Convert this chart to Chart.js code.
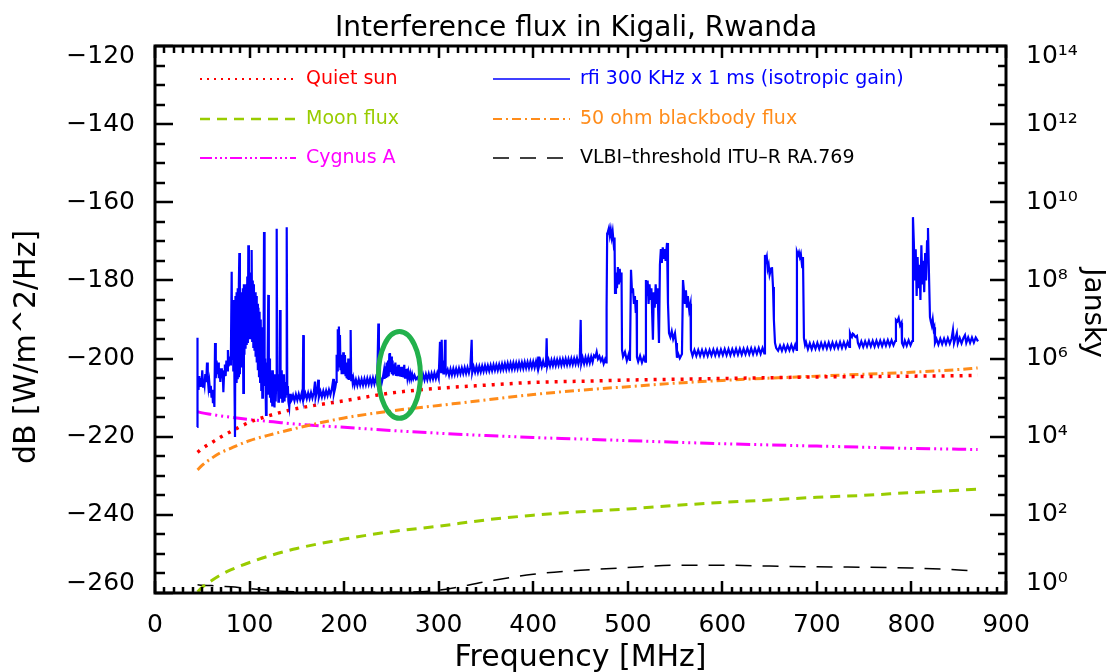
<!DOCTYPE html>
<html>
<head>
<meta charset="utf-8">
<title>Interference flux in Kigali, Rwanda</title>
<script src="https://cdn.jsdelivr.net/npm/chart.js@4.4.1/dist/chart.umd.min.js"></script>
<style>
  html, body { margin: 0; padding: 0; background: #fff; }
  #wrap { width: 1111px; height: 672px; }
</style>
</head>
<body>
<div id="wrap"><canvas id="fluxChart" width="1111" height="672"></canvas></div>
<script>
// Smooth model curves, all sampled on the same frequencies (MHz)
const curveFreq = [45, 50, 60, 70, 80, 100, 125, 150, 200, 250, 300, 350, 400, 450, 500, 550, 600, 650, 700, 750, 800, 850, 870];
const quietSun  = [-224, -223, -221.5, -220, -218.7, -216.3, -214.3, -212.8, -210.8, -208.8, -207.6, -206.8, -206.1, -205.8, -205.5, -205.3, -205.1, -204.9, -204.7, -204.6, -204.5, -204.4, -204.3];
const blackbody = [-228.5, -227.3, -225.5, -224, -223, -221, -219.3, -217.8, -215.2, -213.4, -212, -210.6, -209.2, -208.1, -207.2, -206.3, -205.6, -205, -204.5, -204, -203.5, -202.8, -202.4];
const moonFlux  = [-259.7, -258.5, -256.8, -255.3, -254.1, -252.2, -250.2, -248.6, -246.2, -244.3, -242.9, -241.3, -240.1, -239.2, -238.5, -237.6, -236.8, -236.2, -235.5, -235, -234.3, -233.7, -233.4];
const cygnusA   = [-213.6, -213.9, -214.3, -214.7, -215, -215.6, -216.2, -216.8, -217.6, -218.4, -219.1, -219.7, -220.2, -220.6, -221, -221.4, -221.8, -222.1, -222.4, -222.7, -223, -223.2, -223.3];
const vlbiLimit = [-257.9, -258, -258.1, -258.3, -258.4, -258.9, -259.4, -259.7, -259.8, -259.8, -259.3, -257.1, -255.2, -254.2, -253.5, -252.9, -252.9, -253.1, -253.3, -253.4, -253.6, -254.1, -254.5];

// Measured RFI spectrum: [frequency MHz, dB W/m^2/Hz]
const rfiSpectrum = [
  [44.6,-217.5],[44.7,-194.7],[45.2,-205.5],[46,-208],[46.8,-204.5],[47.6,-207],[48.4,-205],[49.2,-206.8],[50,-203],[50.8,-207.2],
  [51.6,-205.5],[52.4,-206.8],[53.2,-204],[54.2,-206],[55,-201],[55.8,-205],[56.6,-207.5],[57.4,-206],[58.2,-208.5],[59,-207],
  [59.8,-210],[60.6,-208],[61.3,-211.4],[62,-209],[62.8,-212.4],[63.5,-196],[64.3,-205],[65.1,-200.5],[65.9,-204],[66.7,-201],
  [67.5,-205],[68.3,-202.5],[69.1,-206],[69.9,-202.5],[70.7,-205],[71.5,-203],[72.3,-208.6],[73.1,-203.5],[73.9,-201.5],[74.7,-204.5],
  [75.5,-200.5],[76.3,-203],[77.1,-197.8],[77.9,-202],[78.7,-199.5],[79.5,-201.5],[80.3,-198.5],
  [81.1,-177.8],[81.6,-200],[82.2,-186],[82.8,-203],[83.4,-185],[84,-205],[84.6,-220.1],[85.1,-184],[85.7,-206],[86.3,-183],
  [86.9,-205],[87.5,-182],[88.1,-204.5],[88.7,-181],[89.2,-173],[89.8,-204],[90.4,-184],[91,-202],[91.7,-183],[92.3,-201],
  [92.9,-182],[93.4,-208.8],[94,-181],[94.6,-199],[95.2,-182],[95.8,-197.5],[96.4,-181],[97,-196.5],[97.6,-179],[98.2,-196],
  [98.7,-171],[99.3,-195],[99.9,-178],[100.5,-194.8],[101.1,-180],[101.7,-194.5],[102.2,-172.2],[102.8,-195.5],[103.4,-180],[104,-197],
  [104.6,-181],[105.2,-198],[105.8,-183],[106.4,-199.5],[107,-184],[107.6,-201],[108.2,-186],[108.8,-203],[109.4,-187],[110,-204.5],
  [110.6,-188],[111.2,-206],[111.8,-190],[112.4,-208],[112.9,-192],
  [113.5,-210],[114.1,-199],[114.7,-207],[115.3,-167.6],[115.9,-205],[116.5,-200],[117.4,-214.4],[118,-201],[118.6,-209],[119.2,-199],
  [119.8,-183.7],[120.4,-206],[121,-200],[121.6,-210],[122.2,-203],[122.8,-211],[123.4,-204],[124,-212],[124.6,-203],[125.2,-210],
  [125.8,-205],[126.4,-212.5],[127,-204],[127.6,-211],[128.2,-206],[128.7,-166.8],[129.3,-208],[129.9,-204],[130.5,-211],[131.1,-205],
  [131.7,-209],[132.2,-187.6],[132.8,-207],[133.4,-210],[134,-203],[134.6,-211],[135.2,-205],[135.8,-209],[136.4,-204],[137,-211],
  [137.6,-206],[138.2,-210],[138.8,-207],[139.3,-166.4],[139.9,-209],[140.5,-207],[141.1,-211],[142,-212.4],[142.8,-209],[143.6,-211],
  [144.5,-210.6],[146,-209.4],[147.5,-210.8],[149,-209.2],[150.5,-210.6],[152,-209.1],[153.5,-210.5],[155,-209],[156.2,-210.4],[156.8,-194],
  [157.4,-210.2],[159,-208.9],[160.5,-210.3],[162,-208.8],[163.5,-210.2],[165,-208.7],[166.5,-210.1],[168,-208.6],[169.2,-205.9],[169.8,-210],
  [171.2,-208.5],[172.7,-205.4],[173.3,-209.9],[175,-208.4],[176.5,-209.8],[178,-208.3],[179.5,-209.7],[181,-208.2],[182.5,-209.5],[184,-208],
  [185.5,-209.3],[187,-207.8],[188.6,-205.2],[189.2,-209],[190.6,-207.5],[191.6,-206],
  [192.1,-199],[192.7,-203],[193.3,-192.5],[193.9,-200],[194.5,-191.8],[195.1,-202],[195.6,-194],[196.2,-203],[196.8,-199],[197.4,-204],
  [198,-199.5],[198.6,-203.5],[199.1,-198.4],[199.7,-204],[200.3,-200],[200.9,-199.1],[201.5,-204.5],[202.1,-201],[202.7,-205],[203.3,-202],
  [203.9,-205.3],[204.4,-200],[205,-205.5],[205.6,-203],[206.3,-205],[206.9,-192.7],[207.5,-205.5],[208.2,-204],[209,-206],[209.7,-205],
  [211,-206.9],[212.5,-205.4],[214,-206.9],[215.5,-205.3],[217,-206.8],[218.5,-205.3],[220,-206.8],[221.5,-205.2],[223,-206.7],[224.5,-205.1],
  [226,-206.6],[227.5,-205.1],[229,-206.6],[230.5,-205],[232,-206.5],[233.5,-205],[235,-206.4],[236.2,-191],[236.8,-206.3],[238.2,-204.9],
  [239.7,-206.3],[241,-204.8],
  [242.2,-203],[242.8,-205.2],[243.5,-202],[244.2,-205],[245,-201],[245.8,-204.8],[246.5,-200.5],[247.2,-204.5],[247.8,-199],[248.5,-198.6],
  [249.2,-203.5],[249.8,-199.5],[250.5,-204],[251.2,-200.5],[252,-204.3],[252.8,-201.5],[253.5,-204],[254.2,-201],[255,-204.2],[255.8,-202],
  [256.5,-204.5],[257.3,-201.6],[258,-204.5],[258.8,-202.5],[259.6,-204.6],[260.4,-202.1],[261.2,-204.7],[262,-202.5],[262.8,-204.8],[263.6,-201.6],
  [264.4,-204.9],[265.2,-203],[266.2,-202.9],[267,-205],[268,-203.5],[269,-205.1],[270,-203.8],[271,-205.2],[272,-204],[273.2,-205.2],
  [274.5,-204.3],[276,-205.3],[277.5,-204.8],
  [279,-205.6],[280.5,-204.2],[282,-205.6],[283.5,-204.1],[285,-205.5],[286.5,-204],[288,-205.4],[289.5,-203.9],[291,-205.3],[292.5,-203.8],
  [294,-205.2],[295.5,-203.7],[297,-205.1],[298.5,-203.7],[300,-205],[301.4,-195.7],[302,-201.5],[302.6,-203.5],[303.2,-195.2],[303.8,-202],
  [304.4,-200.5],[305,-203.8],[305.6,-201],[306.2,-203.5],[306.7,-195.2],[307.3,-202.5],[308,-203.8],
  [309.5,-202.8],[311,-204.3],[312.5,-202.7],[314,-204.2],[315.5,-202.6],[317,-204.1],[318.5,-202.6],[320,-204],[321.5,-202.5],[323,-203.9],
  [324.5,-202.4],[326,-203.8],[327.5,-202.3],[329,-203.8],[330.5,-202.3],[332,-203.7],[333.5,-202.2],[334.9,-195.2],[335.5,-203.6],[337,-202.1],
  [338.5,-203.5],[340,-202],[341.5,-203.5],[343,-202],[344.5,-203.4],[346,-201.9],[347.5,-203.3],[349,-201.8],[350.5,-203.2],[352,-201.8],
  [353.5,-203.2],[355,-201.7],[356.5,-203.1],[358,-201.6],[359.5,-203],[361,-201.6],[362.5,-203],[364,-201.5],[365.5,-202.9],[367,-201.4],
  [368.4,-202.8],[370,-201.3],[371.5,-202.8],[373,-201.2],[374.5,-202.7],[376,-201.2],[377.5,-202.7],[379,-201.1],[380.5,-202.6],[382,-201.1],
  [383.5,-202.6],[385,-201],[386.5,-202.5],[388,-201],[389.5,-202.5],[391,-200.9],[392.5,-202.4],[394,-200.9],[395.5,-202.4],[397,-200.8],
  [398.5,-202.3],[400,-200.8],[401.5,-202.3],[403,-200.7],[404.4,-202.2],[405.4,-199.5],[406,-202.1],[407.5,-200.6],[409,-202.1],[410.5,-200.6],
  [412,-202],[413.5,-201.8],[414.2,-194.8],[414.8,-201.9],[416.3,-200.4],[417.8,-201.9],[419.3,-200.4],[420.8,-201.8],[422.3,-200.3],[423.8,-201.8],
  [425.3,-200.3],[426.8,-201.7],[428.3,-200.2],[429.8,-201.7],[431.3,-200.2],[432.8,-201.6],[434.3,-200.1],[435.8,-201.6],[437.3,-200.1],[438.8,-201.5],
  [440.3,-200],[441.8,-201.5],[443.3,-200],[444.8,-201.4],[446.3,-199.9],[447.8,-201.4],[449.3,-199.9],[450.2,-190.1],[450.8,-201.3],[452.3,-199.8],
  [453.8,-201.3],[455.3,-199.7],[456.8,-201.2],[458.3,-199.6],[459.8,-201.1],[461.3,-199.5],[462.8,-200.9],[464.3,-199.2],[465.8,-199.6],[467.1,-198.3],
  [468.5,-200.1],[470,-199.4],[471.5,-200.6],[473,-199.8],[474.5,-201.3],[476,-200.2],[477.2,-201],
  [477.6,-187.1],[478.2,-168],[479,-167.5],[480,-166.6],[481,-168.5],[482,-167],[483,-169],[484,-167.5],[485,-170.4],[486,-169],
  [486.5,-183.2],[487.5,-178],[488.6,-182],[489.5,-176.6],[490.5,-181],[491.5,-177],[492.5,-180.5],[493.4,-178],[493.9,-197.8],[495,-199.5],
  [497,-198.3],[499,-200.5],[501,-198.9],[502.3,-200.6],[503.4,-177.3],[504.5,-183],[505.5,-182],[506.5,-186],[507.5,-184],[508.5,-188.3],
  [509.3,-185],[509.7,-199.6],[511,-200.8],[513,-199.3],[515,-201],[517,-199.6],[518.5,-200.8],[519.2,-179.9],[520,-184],[521,-180],
  [522,-186],[523,-181],[524,-185],[525,-182],[526.6,-195.2],[527.5,-183],[528.5,-187],[529.5,-181],[530.5,-186],[531.5,-182],
  [533,-196],[534,-176],[535,-172],[536,-175.5],[537,-171.5],[538,-174.5],[539,-172],[540,-175],[541.5,-170.4],[542.5,-185.8],
  [543.6,-193.5],[545,-194.5],[546.5,-193],[548,-195],[549.9,-193.5],[551,-196],[552,-199.8],[553,-198.6],[555,-199.9],[557.3,-198.8],
  [558.4,-179.9],[559.5,-183],[560.5,-186],[561.5,-182.5],[562.5,-187],[563.5,-184],[565,-187.6],[566.3,-186],[566.8,-197.8],
  [568.5,-199.3],[570.5,-197.8],[572.5,-199.3],[574.5,-197.8],[576.5,-199.3],[578.5,-197.8],[580.5,-199.3],[582.5,-197.8],[584.5,-199.3],[586.5,-197.8],
  [588.5,-199.2],[590.5,-197.7],[592.5,-199.2],[594.5,-197.7],[596.5,-199.2],[598.5,-197.7],[600.5,-199.1],[602.5,-197.6],[604.5,-199.1],[606.5,-197.6],
  [608.5,-199.1],[610.5,-197.6],[612.5,-199],[614.5,-197.5],[616.5,-199],[618.5,-197.5],[620.5,-199],[622.5,-197.5],[624.5,-198.9],[626.5,-197.4],
  [628.5,-198.9],[630.5,-197.4],[632.5,-198.9],[634.5,-197.4],[636.5,-198.8],[638.5,-197.3],[640.5,-198.8],[642.5,-197.3],[644.4,-198.7],
  [645.1,-173.5],[646,-175],[647,-174],[648,-177],[649,-176],[650,-178.5],[651.5,-177],[652.5,-176.6],[653.6,-181.7],[654.5,-190],
  [655.7,-196],[657,-197.3],[659,-198],[661,-196.7],[663,-198],[665,-196.6],[667,-198],[669,-196.6],[671,-197.9],[673,-196.5],
  [675,-197.9],[677,-196.5],[678.5,-197.8],[678.9,-172.7],[680,-173.5],[681,-172.8],[682,-174],[683,-173.2],[684.5,-176.6],[685.3,-174],
  [686.3,-194.7],[687.5,-196.5],[688.5,-195.8],
  [690.5,-197.6],[692.5,-196.1],[694.5,-197.6],[696.5,-196.1],[698.5,-197.5],[700.5,-196],[702.5,-197.5],[704.5,-196],[706.5,-197.4],[708.5,-196],
  [710.5,-197.4],[712.5,-195.9],[714.5,-197.4],[716.5,-195.9],[718.5,-197.3],[720.5,-195.9],[722.5,-197.3],[724.5,-195.8],[726.5,-197.3],[728.5,-195.8],
  [730.5,-197.2],[732.5,-195.8],[734.3,-197],[735,-193.5],[736,-194.2],[737,-194.5],[738,-193.6],[739,-193.8],[740,-194.3],[741,-194.5],
  [742.4,-194.2],[743.4,-196],
  [745,-197],[747,-195.6],[749,-197],[751,-195.6],[753,-196.9],[755,-195.5],[757,-196.9],[759,-195.5],[761,-196.9],[763,-195.4],
  [765,-196.8],[767,-195.4],[769,-196.8],[771,-195.4],[773,-196.7],[775,-195.3],[777,-196.7],[779,-195.3],[781,-196.6],[782.8,-195.5],
  [783.6,-190.1],[785,-190.5],[786.5,-189.6],[788,-191.5],[789.5,-190.8],[790,-196],[791.5,-196.8],[793,-195.4],[795,-196.7],[797,-195.3],
  [799,-196.6],[800.8,-195.5],
  [801.6,-163.8],[802.5,-170],[803.5,-180],[804.5,-172],[805.5,-184],[806.5,-174],[807.5,-182],[808.5,-176],[809.5,-185],[810.5,-171],
  [811.5,-181],[812.5,-175],[813.5,-183],[814.5,-173],[815.5,-180],[816.5,-170],[817.5,-166.6],[818.5,-178],[819.6,-189.4],[820.5,-190.5],
  [821.5,-191.5],[822.5,-190],[823.5,-192.5],[824.2,-192],[824.9,-196],
  [826.5,-195],[828.5,-196.4],[830.5,-194.9],[832.5,-196.3],[834.5,-194.9],[836.5,-196.3],[838.5,-194.8],[840.5,-196.2],[842.5,-194.8],[843.9,-192.7],
  [845,-196.1],[846.5,-194.8],[848,-193.5],[849,-196.1],[851,-194.7],[853,-196.1],[855,-194.7],[856.6,-194],[858,-196],[860,-194.6],
  [862,-196],[864,-194.6],[866,-195.9],[868,-194.6],[870.4,-195.6]
];

// Axis ranges and tick steps
const freqRange = [0, 900];
const dbRange = [-260, -120];
const freqMajor = 100, freqMinor = 10;
const dbMajor = 20, dbMinor = 5;

// Hand-drawn highlight ellipse (MHz / dB)
const highlightCenter = [258.5, -204.2];
const highlightRadius = [22.2, 11.1];

const SUP = {'0':'\u2070','1':'\u00b9','2':'\u00b2','3':'\u00b3','4':'\u2074','5':'\u2075','6':'\u2076','7':'\u2077','8':'\u2078','9':'\u2079'};
function toSuper(n) { return String(n).split('').map(c => SUP[c]).join(''); }

function curvePoints(values) { return curveFreq.map((f, i) => ({ x: f, y: values[i] })); }

// IDL keeps the end labels inside the axis span: nudge first/last label inward
function edgeLabel(text, v) {
  if (v === dbRange[1]) return ['', text];
  if (v === dbRange[0]) return [text, ''];
  return text;
}
function tickFont(c) {
  const edge = c.tick && (c.tick.value === dbRange[0] || c.tick.value === dbRange[1]);
  return { size: 25, lineHeight: edge ? 0.8 : 1.2 };
}

const FONT = "'DejaVu Sans', sans-serif";
Chart.defaults.font.family = FONT;
Chart.defaults.color = '#000';

// Frame with inward ticks (IDL style)
const frameTicks = {
  id: 'frameTicks',
  afterDraw(chart) {
    const { ctx, chartArea: a, scales: { x, y } } = chart;
    ctx.save();
    ctx.strokeStyle = '#000';
    ctx.lineWidth = 2.5;
    ctx.beginPath();
    for (let v = freqRange[0]; v <= freqRange[1]; v += freqMinor) {
      const px = Math.round(x.getPixelForValue(v));
      const major = v % freqMajor === 0;
      ctx.moveTo(px, a.bottom); ctx.lineTo(px, a.bottom - (major ? 12 : 6));
      ctx.moveTo(px, a.top); ctx.lineTo(px, a.top + (major ? 12 : 7));
    }
    for (let v = dbRange[0]; v <= dbRange[1]; v += dbMinor) {
      const py = Math.round(y.getPixelForValue(v));
      const major = v % dbMajor === 0;
      ctx.moveTo(a.left, py); ctx.lineTo(a.left + (major ? 18 : 10), py);
      ctx.moveTo(a.right, py); ctx.lineTo(a.right - (major ? 16 : 8), py);
    }
    ctx.stroke();
    ctx.lineWidth = 3;
    ctx.strokeRect(a.left, a.top, a.right - a.left, a.bottom - a.top);
    ctx.restore();
  }
};

// Green ellipse drawn over the data
const highlight = {
  id: 'highlight',
  afterDatasetsDraw(chart) {
    const { ctx, scales: { x, y } } = chart;
    const cx = x.getPixelForValue(highlightCenter[0]);
    const cy = y.getPixelForValue(highlightCenter[1]);
    const rx = x.getPixelForValue(highlightCenter[0] + highlightRadius[0]) - cx;
    const ry = cy - y.getPixelForValue(highlightCenter[1] + highlightRadius[1]);
    ctx.save();
    ctx.strokeStyle = '#22b14c';
    ctx.lineWidth = 5;
    ctx.beginPath();
    ctx.ellipse(cx, cy, rx, ry, 0, 0, Math.PI * 2);
    ctx.stroke();
    ctx.restore();
  }
};

// Titles and two-column legend inside the plot
const legendSlots = [
  { label: 'Quiet sun', col: 0, row: 0 },
  { label: 'rfi 300 KHz x 1 ms (isotropic gain)', col: 1, row: 0 },
  { label: 'Moon flux', col: 0, row: 1 },
  { label: '50 ohm blackbody flux', col: 1, row: 1 },
  { label: 'Cygnus A', col: 0, row: 2 },
  { label: 'VLBI\u2013threshold ITU\u2013R RA.769', col: 1, row: 2 }
];
const annotations = {
  id: 'annotations',
  afterDraw(chart) {
    const { ctx } = chart;
    ctx.save();
    ctx.fillStyle = '#000';
    ctx.textAlign = 'center';
    ctx.textBaseline = 'alphabetic';
    ctx.font = '28px ' + FONT;
    ctx.fillText('Interference flux in Kigali, Rwanda', 576, 36);

    ctx.textBaseline = 'middle';
    ctx.font = '30px ' + FONT;
    ctx.save();
    ctx.translate(27, 347);
    ctx.rotate(-Math.PI / 2);
    ctx.fillText('dB [W/m^2/Hz]', 0, 0);
    ctx.restore();
    ctx.font = '28px ' + FONT;
    ctx.save();
    ctx.translate(1092, 313);
    ctx.rotate(Math.PI / 2);
    ctx.fillText('Jansky', 0, 0);
    ctx.restore();

    const cols = [{ x0: 200, x1: 296, tx: 306 }, { x0: 493, x1: 570, tx: 580 }];
    const rows = [79, 119, 158];
    ctx.font = '19px ' + FONT;
    ctx.textAlign = 'left';
    legendSlots.forEach(slot => {
      const ds = chart.data.datasets.find(d => d.label === slot.label);
      if (!ds) return;
      const c = cols[slot.col], yy = rows[slot.row];
      ctx.strokeStyle = ds.borderColor;
      ctx.lineWidth = ds.legendWidth || 2;
      ctx.setLineDash(ds.legendDash || ds.borderDash || []);
      ctx.beginPath();
      ctx.moveTo(c.x0, yy); ctx.lineTo(c.x1, yy);
      ctx.stroke();
      ctx.setLineDash([]);
      ctx.fillStyle = ds.borderColor;
      ctx.fillText(slot.label, c.tx, yy);
    });
    ctx.restore();
  }
};

function buildChart() {
  const ctx = document.getElementById('fluxChart');
  return new Chart(ctx, {
    type: 'line',
    data: {
      datasets: [
        { label: 'rfi 300 KHz x 1 ms (isotropic gain)', data: rfiSpectrum.map(([f, d]) => ({ x: f, y: d })),
          borderColor: '#0000ff', borderWidth: 2.2, tension: 0, legendWidth: 1.5 },
        { label: 'Quiet sun', data: curvePoints(quietSun), borderColor: '#ff0000', borderWidth: 3.5,
          borderDash: [3, 6], cubicInterpolationMode: 'monotone', legendDash: [2, 5], legendWidth: 2 },
        { label: '50 ohm blackbody flux', data: curvePoints(blackbody), borderColor: '#ff8c1a', borderWidth: 3,
          borderDash: [9, 4, 2, 4], cubicInterpolationMode: 'monotone', legendDash: [9, 4, 2, 4] },
        { label: 'Cygnus A', data: curvePoints(cygnusA), borderColor: '#ff00ff', borderWidth: 3,
          borderDash: [14, 4, 2, 4, 2, 4, 2, 4], cubicInterpolationMode: 'monotone', legendDash: [12, 3, 2, 3, 2, 3, 2, 3] },
        { label: 'Moon flux', data: curvePoints(moonFlux), borderColor: '#99cc00', borderWidth: 3,
          borderDash: [10, 7], cubicInterpolationMode: 'monotone', legendDash: [10, 7], legendWidth: 2.5 },
        { label: 'VLBI\u2013threshold ITU\u2013R RA.769', data: curvePoints(vlbiLimit), borderColor: '#000000', borderWidth: 1.5,
          borderDash: [16, 11], cubicInterpolationMode: 'monotone', legendDash: [16, 11], legendWidth: 1.5 }
      ]
    },
    options: {
      responsive: false,
      animation: false,
      devicePixelRatio: 1,
      layout: { padding: { top: 46, left: 0, right: 0, bottom: 0 } },
      elements: { point: { radius: 0 } },
      plugins: { legend: { display: false }, tooltip: { enabled: false } },
      scales: {
        x: {
          type: 'linear', min: freqRange[0], max: freqRange[1],
          grid: { display: false }, border: { display: false },
          ticks: { stepSize: freqMajor, padding: 9, color: '#000', font: { size: 25 }, maxRotation: 0 },
          title: { display: true, text: 'Frequency [MHz]', color: '#000', font: { size: 30 }, padding: { top: 0, bottom: -4 } },
          afterFit(scale) { scale.height = 79; }
        },
        y: {
          type: 'linear', position: 'left', min: dbRange[0], max: dbRange[1],
          grid: { display: false }, border: { display: false },
          ticks: { stepSize: dbMajor, padding: 12, color: '#000', font: tickFont,
            callback: v => edgeLabel((v < 0 ? '\u2212' : '') + Math.abs(v), v) },
          afterFit(scale) { scale.width = 155; }
        },
        y2: {
          type: 'linear', position: 'right', min: dbRange[0], max: dbRange[1],
          grid: { display: false }, border: { display: false },
          ticks: { stepSize: dbMajor, padding: 12, color: '#000', font: tickFont,
            callback: v => edgeLabel('10' + toSuper((v - dbRange[0]) / 10), v) },
          afterFit(scale) { scale.width = 105; }
        }
      }
    },
    plugins: [highlight, frameTicks, annotations]
  });
}

document.addEventListener('DOMContentLoaded', () => {
  try {
    window.fluxChart = buildChart();
  } catch (err) {
    console.error('Chart build error:', err);
  }
});
</script>
</body>
</html>
